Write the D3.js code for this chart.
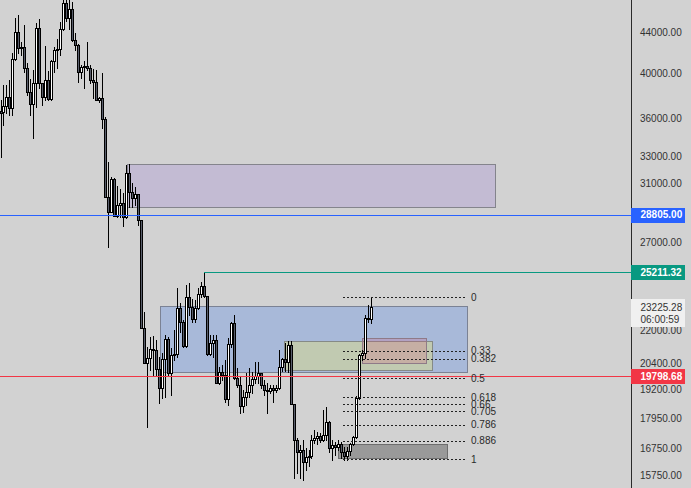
<!DOCTYPE html>
<html><head><meta charset="utf-8">
<script src="https://cdn.jsdelivr.net/npm/d3@7"></script>
<style>html,body{margin:0;padding:0;background:#d2d2d2;}svg{display:block;}</style>
</head><body>
<script>
// ---- candle data ----
const open=[36630,36550,37060,37840,36890,41330,44000,42400,42500,40470,
38280,37230,39090,44410,39090,37840,39360,37660,41140,42200,
42300,44310,47070,45450,46410,43190,42700,40100,40570,40660,
40470,39360,39180,37580,37750,35960,30000,28970,31280,28710,
29450,29590,28640,31720,30350,29930,30210,28440,22130,20410,
20640,21080,21030,20120,19260,20600,21580,19940,20790,20840,
23180,22440,21230,23790,23240,22600,23180,23950,24400,23840,
20840,21380,21520,19480,19990,19850,18770,21330,22390,19710,
19390,18470,18860,19080,19390,19660,19800,19940,19390,19170,
19120,19260,19170,19260,20220,20600,20450,21280,18550,17070,
16600,16670,16220,16410,16440,17070,17150,17230,17070,17270,
17790,16750,16870,16790,16910,16600,16440,16640,16910,17190,
18810,20790,20890,22650,22600];
const high=[37580,38910,38910,39360,41910,45450,45770,42990,44720,40950,
39450,40290,44930,45350,39090,42600,40190,41230,42500,43290,
45030,47390,47610,47610,47180,43900,42800,40760,41140,42990,
40760,40380,40290,37840,40010,36120,32540,31430,31350,30780,
30560,30280,32310,32390,30990,30710,30210,28440,22970,21180,
21680,21730,21520,20690,20890,21780,21680,21130,22030,24290,
23460,22550,24460,24570,23670,23620,24290,24630,25211.32,23840,
21780,21780,21780,20220,20310,20550,21630,22440,22810,20170,
19750,19170,19940,20170,19990,20450,20450,19940,19620,19480,
19390,19390,19390,21030,20640,21380,21470,21470,18550,17150,
16870,17070,16750,16670,17270,17470,17390,17350,18300,18420,
17840,17070,16990,17070,16990,16790,16790,16950,17230,18900,
20840,21030,22810,23350,23790];
const low=[32920,35460,36460,36290,36290,41230,41910,41720,40100,38020,
36290,34400,36970,38640,37150,37580,37580,37580,40100,40470,
41720,44200,45140,44310,43090,42200,39180,39550,38640,40290,
39090,37750,37580,37400,35210,30000,26710,28970,28710,28640,
28640,28050,28570,29310,29310,29450,28110,22130,20410,17590,
20080,19850,19850,18600,18810,18860,19850,18950,20550,20690,
21930,21180,21180,22810,22440,22440,23130,23790,23790,20790,
20790,20690,19480,19440,19620,18640,18510,21180,19660,19300,
18170,18210,18510,18860,19030,19480,19480,19260,18950,18170,
19030,18640,19080,19210,20030,20030,19990,18550,15630,15810,
15630,15550,15920,16070,16370,16950,16910,16990,17030,17070,
16600,16290,16480,16670,16370,16290,16290,16480,16870,17150,
18770,20550,20640,22440,22390];
const close=[36460,37060,37840,36890,41330,44000,42400,42500,40470,38280,
37230,39090,44410,39090,37840,39360,37660,41140,42200,42300,
44310,47070,45450,46410,43190,42700,40100,40570,40660,40470,
39360,39180,37580,37750,35960,30000,28970,31280,28710,29450,
29590,28640,31720,30350,29930,30210,28440,22130,20410,20640,
21080,21030,20120,19260,20600,21580,19940,20790,20840,23180,
22440,21230,23790,23240,22600,23180,23950,24400,23840,20840,
21380,21520,19480,19990,19850,18770,21330,22390,19710,19390,
18470,18860,19080,19390,19660,19800,19940,19390,19170,19120,
19260,19170,19260,20220,20600,20450,21280,18550,17070,16600,
16670,16220,16410,16440,17070,17150,17230,17070,17270,17790,
16750,16870,16790,16910,16600,16440,16640,16910,17190,18810,
20790,20890,22650,22600,23225.28];

// ---- price axis ticks ----
const tickValues=[44000,40000,36000,33000,31000,27000,22000,20400,19200,17950,16750,15750];

// ---- horizontal levels ----
const levelPrices=[28805.00,25211.32,19798.68];
const levelStartBar=[null,68,null];

// ---- zones (bar index range, price range) ----
const zoneBar0=[42.3,53.3,94.8,121.0,113.0];
const zoneBar1=[165.4,156.0,144.2,142.2,149.2];
const zoneTop=[32390,23290,21470,21610,16930];
const zoneBottom=[29310,19990,20080,20420,16360];

// ---- fibonacci retracement ----
const fibLevels=[0,0.33,0.382,0.5,0.618,0.66,0.705,0.786,0.886,1];
const fibLabels=["0","0.33","0.382","0.5","0.618","0.66","0.705","0.786","0.886","1"];
const fibHigh=23790, fibLow=16330;
const fibBar0=114.7, fibBar1=155.4, fibLabelBar=157.4;

const lastPrice=23225.28, countdown="06:00:59";

// ---- styles ----
const W=691,H=488, axisX=631;
const zoneFill=["#c3bbd3","#a8b9d9","#c1cab1","rgba(220,80,120,0.22)","#999999"];
const zoneStroke=["#84848c","#7b8294","#858a86","#8f7a88","#6e6e6e"];
const levelColor=["#2962ff","#089981","#f23645"];

const svg=d3.select("body").append("svg").attr("width",W).attr("height",H)
  .style("font-family","'Liberation Sans',Arial,sans-serif");
svg.append("rect").attr("width",W).attr("height",H).attr("fill","#d2d2d2");

const x=d3.scaleLinear().domain([0,124]).range([0.5,371.3]);
const y=d3.scaleLog().domain([15750,44000]).range([474.8,32]);

svg.append("clipPath").attr("id","clip").append("rect").attr("width",axisX).attr("height",H);
const g=svg.append("g").attr("clip-path","url(#clip)").attr("shape-rendering","crispEdges");

// zones
const zones=d3.range(zoneBar0.length);
g.selectAll("rect.zone").data(zones).join("rect").attr("class","zone")
  .attr("x",i=>Math.round(x(zoneBar0[i]))+0.5)
  .attr("y",i=>Math.round(y(zoneTop[i]))+0.5)
  .attr("width",i=>Math.round(x(zoneBar1[i]))-Math.round(x(zoneBar0[i])))
  .attr("height",i=>Math.round(y(zoneBottom[i]))-Math.round(y(zoneTop[i])))
  .attr("fill",i=>zoneFill[i]).attr("stroke",i=>zoneStroke[i]).attr("stroke-width",1);

// candles
const idx=d3.range(open.length);
const cg=g.append("g");
cg.selectAll("line.wick").data(idx).join("line").attr("class","wick")
  .attr("x1",i=>Math.round(x(i))+0.5).attr("x2",i=>Math.round(x(i))+0.5)
  .attr("y1",i=>Math.round(y(high[i]))).attr("y2",i=>Math.round(y(low[i]))+1)
  .attr("stroke","#000").attr("stroke-width",1);
cg.selectAll("rect.body").data(idx).join("rect").attr("class","body")
  .attr("x",i=>Math.round(x(i))-0.5)
  .attr("y",i=>Math.round(y(Math.max(open[i],close[i])))+0.5)
  .attr("width",2)
  .attr("height",i=>Math.max(0,Math.round(y(Math.min(open[i],close[i])))-Math.round(y(Math.max(open[i],close[i])))))
  .attr("fill",i=>close[i]>=open[i]?"#ffffff":"#585d6b")
  .attr("stroke","#000").attr("stroke-width",1);

// horizontal levels
g.selectAll("line.level").data(levelPrices).join("line").attr("class","level")
  .attr("x1",(d,i)=>levelStartBar[i]===null?0:Math.round(x(levelStartBar[i])))
  .attr("x2",axisX)
  .attr("y1",d=>Math.round(y(d))+0.5).attr("y2",d=>Math.round(y(d))+0.5)
  .attr("stroke",(d,i)=>levelColor[i]).attr("stroke-width",1);

// fib
const fibPrice=l=>Math.exp(Math.log(fibHigh)+l*(Math.log(fibLow)-Math.log(fibHigh)));
g.selectAll("line.fib").data(fibLevels).join("line").attr("class","fib")
  .attr("x1",Math.round(x(fibBar0))).attr("x2",Math.round(x(fibBar1)))
  .attr("y1",l=>Math.round(y(fibPrice(l)))+0.5).attr("y2",l=>Math.round(y(fibPrice(l)))+0.5)
  .attr("stroke","#222").attr("stroke-width",1).attr("stroke-dasharray","2,2");
svg.append("g").selectAll("text.fib").data(fibLevels).join("text").attr("class","fib")
  .attr("x",Math.round(x(fibLabelBar))).attr("y",l=>y(fibPrice(l)))
  .attr("dy","0.35em").attr("font-size","10px").attr("fill","#2a2a2a")
  .text((l,i)=>fibLabels[i]);

// price axis
const axisG=svg.append("g").attr("transform",`translate(${axisX},0)`)
  .call(d3.axisRight(y).tickValues(tickValues).tickFormat(d3.format(".2f")).tickSize(0).tickPadding(9));
axisG.select(".domain").remove();
axisG.selectAll("text").attr("font-size","10px").attr("fill","#333")
  .attr("font-family","'Liberation Sans',Arial,sans-serif");
svg.append("line").attr("x1",axisX+0.5).attr("x2",axisX+0.5).attr("y1",0).attr("y2",H)
  .attr("stroke","#2a2a2a").attr("stroke-width",1).attr("shape-rendering","crispEdges");

// current price box
const lp=svg.append("g");
lp.append("rect").attr("x",axisX).attr("y",Math.round(y(lastPrice))-8).attr("width",54).attr("height",28)
  .attr("fill","#f0f0f0");
lp.append("text").attr("x",axisX+9.5).attr("y",y(lastPrice)).attr("dy","0.35em")
  .attr("font-size","10px").attr("fill","#333").text(d3.format(".2f")(lastPrice));
lp.append("text").attr("x",axisX+9.5).attr("y",y(lastPrice)+12.5).attr("dy","0.35em")
  .attr("font-size","10px").attr("fill","#333").text(countdown);

// level labels
const lb=svg.append("g").selectAll("g").data(levelPrices).join("g");
lb.append("rect").attr("x",axisX).attr("y",d=>Math.round(y(d))-7).attr("width",54).attr("height",15)
  .attr("fill",(d,i)=>levelColor[i]);
lb.append("text").attr("x",axisX+9.5).attr("y",d=>y(d)).attr("dy","0.36em")
  .attr("font-size","10px").attr("font-weight","bold").attr("fill","#fff")
  .text(d=>d3.format(".2f")(d));
</script>
</body></html>
